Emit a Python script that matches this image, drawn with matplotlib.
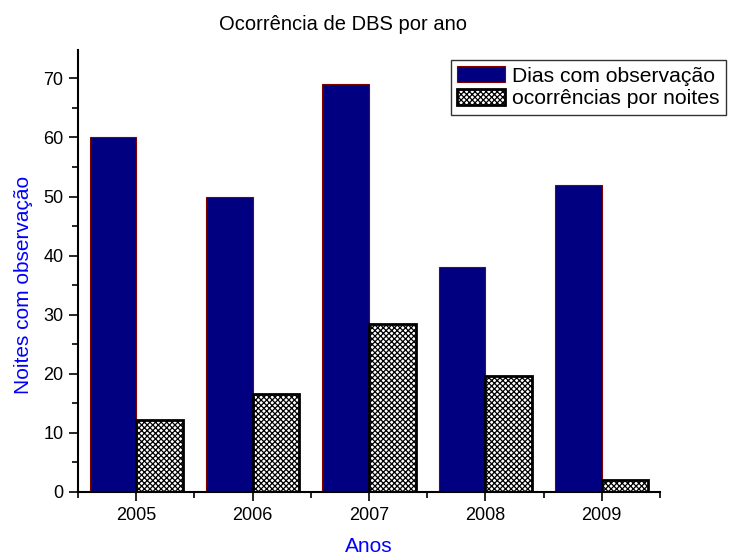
import numpy as np
import matplotlib.pyplot as plt
from matplotlib.ticker import MultipleLocator

plt.rcParams['font.family'] = ['Liberation Sans', 'DejaVu Sans']
plt.rcParams['hatch.linewidth'] = 0.9

#--------- dados ---------#
anos = [2005, 2006, 2007, 2008, 2009]
dias_obs = [60, 50, 69, 38, 52]
ocorrencias = [12.2, 16.6, 28.4, 19.7, 2.0]

x = np.array(anos)
w = 0.4

fig = plt.figure(figsize=(7.29, 5.58), dpi=100)
ax = fig.add_axes([78/729, 66/558, (660-78)/729, (492-50)/558])

ax.bar(x - w/2, dias_obs, w, color='#000080', edgecolor='#800000', linewidth=0.8,
       label='Dias com observação')
ax.bar(x + w/2, ocorrencias, w, color='white', edgecolor='black', linewidth=2,
       hatch='xxxxxx', label='ocorrências por noites')

ax.set_xlim(2004.5, 2009.5)
ax.set_ylim(0, 74.8)
ax.set_xticks(anos)
ax.xaxis.set_minor_locator(MultipleLocator(0.5))
ax.yaxis.set_major_locator(MultipleLocator(10))
ax.yaxis.set_minor_locator(MultipleLocator(5))
ax.tick_params(which='major', direction='out', length=6.5, width=1.2, labelsize=13, pad=4)
ax.tick_params(which='minor', direction='out', length=4, width=1.2)
ax.spines['top'].set_visible(False)
ax.spines['right'].set_visible(False)
ax.spines['left'].set_linewidth(1.5)
ax.spines['bottom'].set_linewidth(1.5)

ax.set_xlabel('Anos', color='blue', fontsize=15, va='center')
ax.xaxis.set_label_coords(0.5, -0.124)
ax.set_ylabel('Noites com observação', color='blue', fontsize=15, va='center')
ax.yaxis.set_label_coords(-0.094, 0.468)
fig.text(343/729, 1 - 24/558, 'Ocorrência de DBS por ano', ha='center', va='center', fontsize=14.5)

leg = ax.legend(loc='upper left', bbox_to_anchor=(451/729, 1 - 60/558), bbox_transform=fig.transFigure,
                fontsize=15.2, frameon=True, fancybox=False, edgecolor='black',
                borderpad=0.3, labelspacing=0.15, handlelength=2.25, handleheight=0.8,
                handletextpad=0.35, borderaxespad=0)
leg.get_frame().set_linewidth(1.0)

fig.savefig('out.png', dpi=100)
